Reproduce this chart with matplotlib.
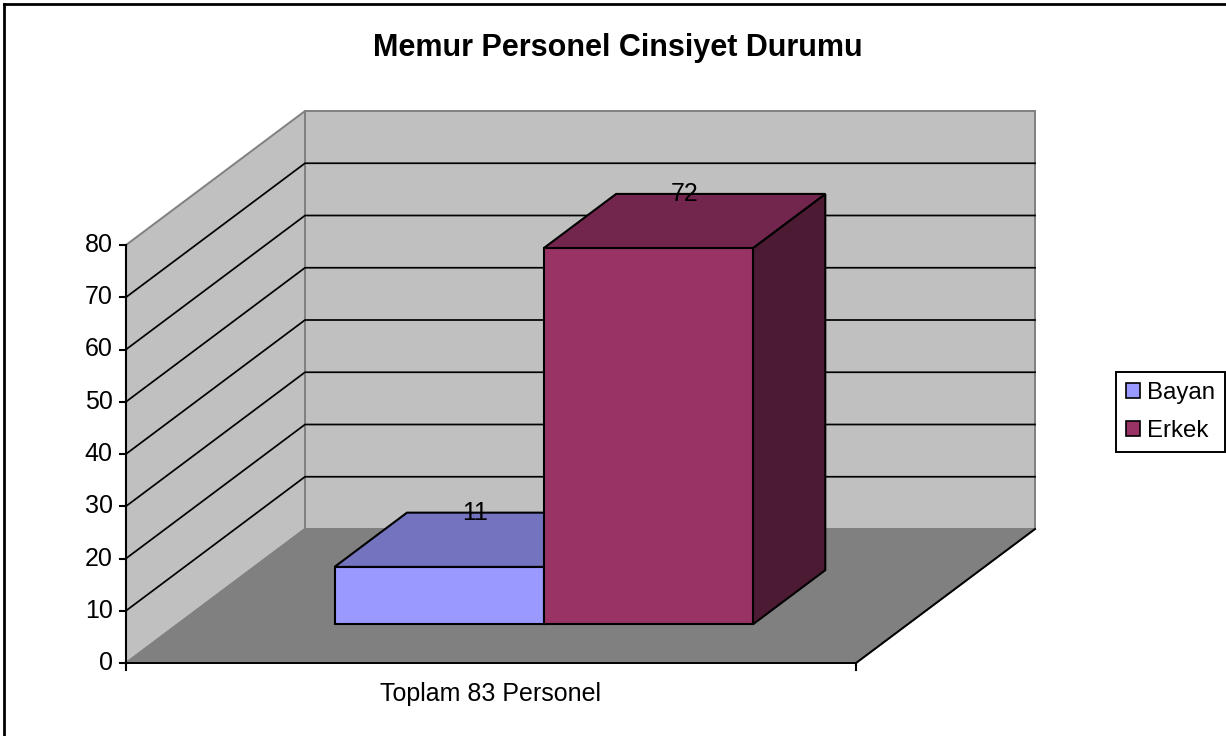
import matplotlib
matplotlib.use("Agg")
import matplotlib.pyplot as plt
from matplotlib.patches import Polygon, Patch
from matplotlib.lines import Line2D

# ---- data ----
title = "Memur Personel Cinsiyet Durumu"
categories = ["Toplam 83 Personel"]
series = ["Bayan", "Erkek"]
values = [11, 72]
yticks = [0, 10, 20, 30, 40, 50, 60, 70, 80]
colors = ["#9999FF", "#993366"]

plt.rcParams['font.family'] = ['Liberation Sans', 'DejaVu Sans']

W, H = 1226, 736
fig = plt.figure(figsize=(W / 100, H / 100), dpi=100)
ax = fig.add_axes([0, 0, 1, 1])
ax.axis('off')

# oblique projection: front plane X in [0,1] (category axis), v in value units, d depth 0..1
PX_X = 730.0          # pixels per X unit
VMAX = yticks[-1]
PX_V = 418.0 / VMAX   # pixels per value unit
ORIG = (126.0, 663.0) # pixel position of X=0, v=0, d=0
DDX = 179.0 / PX_X    # depth shift in X units
DDV = 134.0 / PX_V    # depth shift in value units

ax.set_xlim(-ORIG[0] / PX_X, (W - ORIG[0]) / PX_X)
ax.set_ylim(-(H - ORIG[1]) / PX_V, ORIG[1] / PX_V)


def P(X, v, d):
    return (X + d * DDX, v + d * DDV)


def poly(pts, fc, ec, lw, z):
    ax.add_patch(Polygon(pts, closed=True, facecolor=fc, edgecolor=ec,
                         linewidth=lw, joinstyle='miter', zorder=z))


GRAY_EDGE = "#808080"
# walls
poly([P(0, 0, 1), P(1, 0, 1), P(1, VMAX, 1), P(0, VMAX, 1)], "#C0C0C0", GRAY_EDGE, 1.4, 1)
poly([P(0, 0, 0), P(0, VMAX, 0), P(0, VMAX, 1), P(0, 0, 1)], "#C0C0C0", GRAY_EDGE, 1.4, 1)

# gridlines
for v in yticks[1:-1]:
    xs, ys = zip(P(0, v, 0), P(0, v, 1), P(1, v, 1))
    ax.plot(xs, ys, color="black", lw=1.25, zorder=2)

# floor
poly([P(0, 0, 0), P(1, 0, 0), P(1, 0, 1), P(0, 0, 1)], "#808080", GRAY_EDGE, 1.4, 3)
xs, ys = zip(P(0, 0, 0), P(1, 0, 0), P(1, 0, 1))
ax.plot(xs, ys, color="black", lw=1.4, zorder=3.5)

# bars
bar_w = 0.2865
d0, d1 = 0.288, 0.693
group_left = 0.5015 - bar_w * len(values) / 2
for i, (val, c) in enumerate(zip(values, colors)):
    x0 = group_left + i * bar_w
    x1 = x0 + bar_w
    rgb = matplotlib.colors.to_rgb(c)
    top_c = tuple(0.75 * t for t in rgb)
    side_c = tuple(0.5 * t for t in rgb)
    z = 5 + i
    poly([P(x1, 0, d0), P(x1, 0, d1), P(x1, val, d1), P(x1, val, d0)], side_c, "black", 1.5, z)
    poly([P(x0, val, d0), P(x1, val, d0), P(x1, val, d1), P(x0, val, d1)], top_c, "black", 1.5, z)
    poly([P(x0, 0, d0), P(x1, 0, d0), P(x1, val, d0), P(x0, val, d0)], c, "black", 1.5, z)
    ax.annotate(str(val), P((x0 + x1) / 2, val, (d0 + d1) / 2), xytext=(0, 19.5),
                textcoords='offset points', ha='center', va='center',
                fontsize=18, zorder=10)

# value axis
xs, ys = zip(P(0, 0, 0), P(0, VMAX, 0))
ax.plot(xs, ys, color="black", lw=1.5, zorder=8)
for v in yticks:
    ax.plot([-6 / PX_X, 0], [v, v], color="black", lw=1.5, zorder=8)
    ax.annotate(str(v), (0, v), xytext=(-9.5, 0), textcoords='offset points',
                ha='right', va='center', fontsize=18, zorder=8)

# category axis ticks and label
for X in (0, 1):
    ax.plot([X, X], [0, -7 / PX_V], color="black", lw=1.5, zorder=8)
ax.annotate(categories[0], (0.5, 0), xytext=(0, -22), textcoords='offset points',
            ha='center', va='center', fontsize=18, zorder=8)

# title
fig.text(617.5 / W, 1 - 48 / H, title, ha='center', va='center',
         fontsize=22, fontweight='bold')

# legend
handles = [Patch(facecolor=c, edgecolor='black', linewidth=1.2) for c in colors]
leg = fig.legend(handles, series, loc='center left',
                 bbox_to_anchor=(1116 / W, 1 - 412 / H), fontsize=17.3,
                 frameon=True, fancybox=False, framealpha=1, edgecolor='black',
                 handlelength=0.58, handleheight=0.58, handletextpad=0.33,
                 borderpad=0.4, labelspacing=0.66, borderaxespad=0)
leg.get_frame().set_linewidth(1.4)

# outer border (left and top)
fig.add_artist(Line2D([3.5 / W, 3.5 / W], [0, 1 - 3.5 / H], color='black', lw=2,
                      transform=fig.transFigure))
fig.add_artist(Line2D([3.5 / W, 1], [1 - 3.5 / H, 1 - 3.5 / H], color='black', lw=2,
                      transform=fig.transFigure))

fig.savefig("out.png", dpi=100)
